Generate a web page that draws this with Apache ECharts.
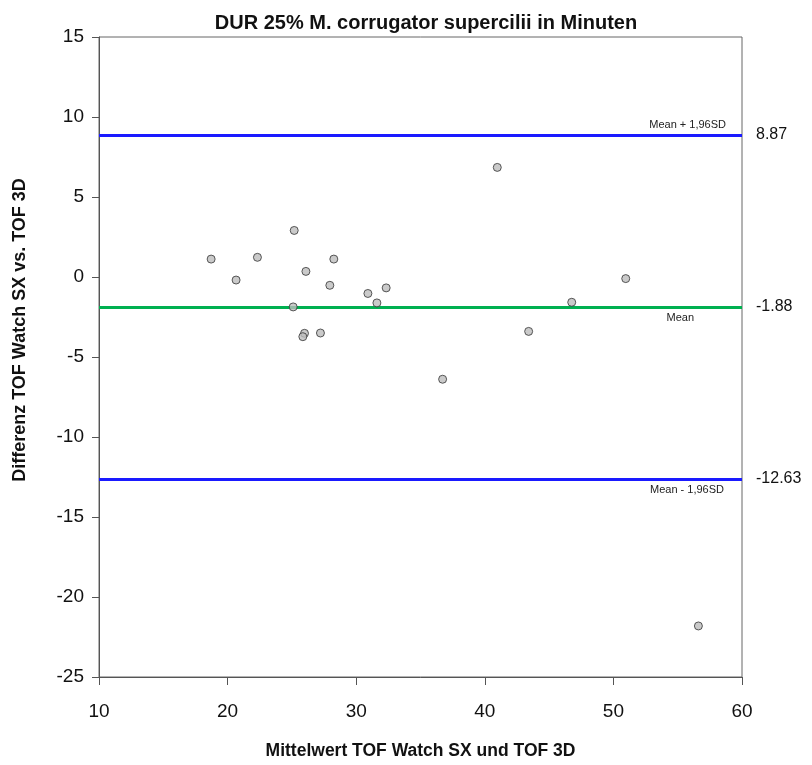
<!DOCTYPE html>
<html>
<head>
<meta charset="utf-8">
<script src="https://cdn.jsdelivr.net/npm/echarts@6/dist/echarts.min.js"></script>
<style>
  html, body { margin: 0; padding: 0; background: #fff; }
  #chart { width: 812px; height: 765px; }
</style>
</head>
<body>
<div id="chart"></div>
<script>
// Mittelwert (x) und Differenz (y)
var meanValues = [18.72, 20.66, 22.32, 25.18, 25.10, 26.09, 27.95, 28.26, 30.91, 32.33,
                  31.61, 25.98, 25.85, 27.22, 40.97, 50.96, 46.76, 43.41, 36.72, 56.61];
var diffValues = [1.12, -0.19, 1.23, 2.91, -1.87, 0.35, -0.52, 1.12, -1.03, -0.68,
                  -1.62, -3.52, -3.73, -3.50, 6.85, -0.10, -1.58, -3.40, -6.39, -21.81];

var upperLimit = 8.87;
var meanDiff = -1.88;
var lowerLimit = -12.63;
var limitNames = ['Mean + 1,96SD', 'Mean', 'Mean - 1,96SD'];

var points = meanValues.map(function (x, i) { return [x, diffValues[i]]; });

var font = 'Liberation Sans, Arial, sans-serif';
var blue = '#1a1aff';
var green = '#00b050';

function valueLine(v, color) {
    return {
        yAxis: v,
        lineStyle: {color: color, width: 3, type: 'solid'},
        label: {
            show: true,
            position: 'end',
            distance: 14,
            formatter: v.toFixed(2),
            color: '#111',
            fontSize: 16,
            fontFamily: font
        }
    };
}

function textLine(v, color, text, pos, dist) {
    return {
        yAxis: v,
        lineStyle: {color: color, width: 3, type: 'solid'},
        label: {
            show: true,
            position: pos,
            distance: dist,
            formatter: text,
            color: '#222',
            fontSize: 11,
            fontFamily: font
        }
    };
}

var chart = echarts.init(document.getElementById('chart'));
var option = {
    backgroundColor: '#fff',
    animation: false,
    title: {
        text: 'DUR 25% M. corrugator supercilii in Minuten',
        left: 421,
        textAlign: 'center',
        top: 8,
        textStyle: {fontSize: 20, fontWeight: 'bold', color: '#111', fontFamily: font}
    },
    grid: {
        left: 99, right: 70, top: 37, bottom: 86,
        show: true, borderColor: '#666', borderWidth: 1
    },
    xAxis: {
        type: 'value',
        min: 10, max: 60, interval: 10,
        name: 'Mittelwert TOF Watch SX und TOF 3D',
        nameLocation: 'middle',
        nameGap: 65,
        nameTextStyle: {fontSize: 17.5, fontWeight: 'bold', color: '#111', fontFamily: font},
        axisLine: {show: true, onZero: false, lineStyle: {color: '#555'}},
        axisTick: {show: true, length: 8, lineStyle: {color: '#555'}},
        axisLabel: {fontSize: 19, color: '#111', margin: 25, fontFamily: font},
        splitLine: {show: false}
    },
    yAxis: {
        type: 'value',
        min: -25, max: 15, interval: 5,
        axisLine: {show: true, onZero: false, lineStyle: {color: '#555'}},
        axisTick: {show: true, length: 7, lineStyle: {color: '#555'}},
        axisLabel: {fontSize: 19, color: '#111', margin: 15, fontFamily: font},
        splitLine: {show: false}
    },
    graphic: [{
        type: 'text',
        x: 20, y: 330,
        rotation: Math.PI / 2,
        style: {
            text: 'Differenz TOF Watch SX vs. TOF 3D',
            fontSize: 18, fontWeight: 'bold', fill: '#111', fontFamily: font,
            align: 'center', verticalAlign: 'middle'
        }
    }],
    series: [{
        type: 'scatter',
        data: points,
        symbol: 'circle',
        symbolSize: 8,
        itemStyle: {color: '#bdbdbd', borderColor: '#333', borderWidth: 1},
        z: 3,
        markLine: {
            silent: true,
            symbol: 'none',
            z: 2,
            data: [
                valueLine(upperLimit, blue),
                valueLine(meanDiff, green),
                valueLine(lowerLimit, blue),
                textLine(upperLimit, blue, limitNames[0], 'insideEndTop', [16, 5]),
                textLine(meanDiff, green, limitNames[1], 'insideEndBottom', [48, 5]),
                textLine(lowerLimit, blue, limitNames[2], 'insideEndBottom', [18, 5])
            ]
        }
    }]
};
chart.setOption(option);
</script>
</body>
</html>
